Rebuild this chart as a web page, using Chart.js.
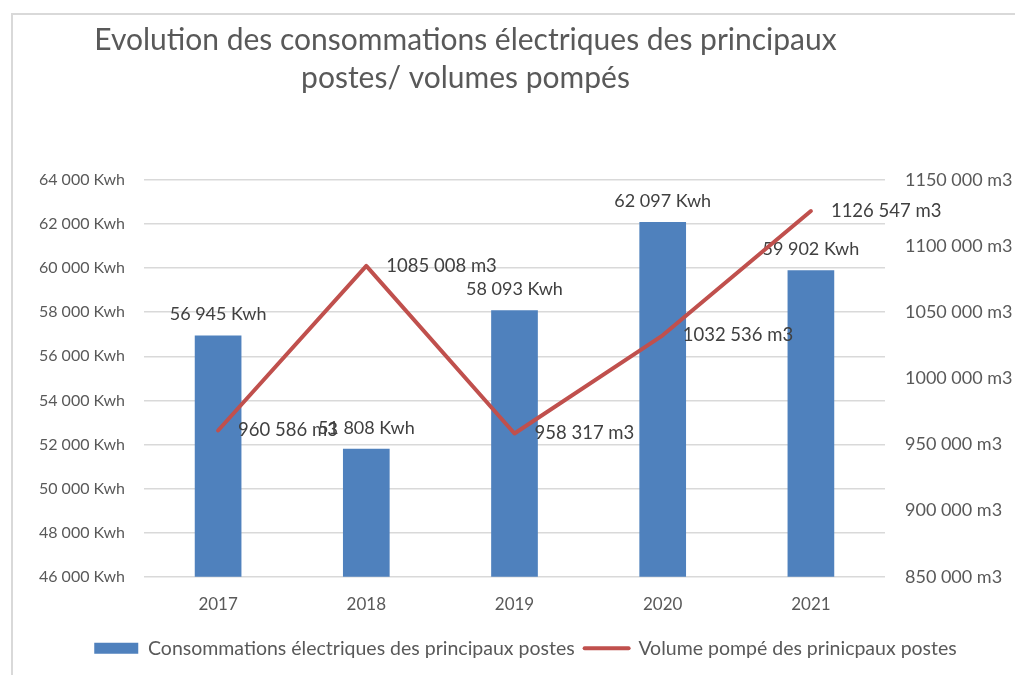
<!DOCTYPE html>
<html lang="fr">
<head>
<meta charset="utf-8">
<title>Evolution des consommations électriques</title>
<script src="https://cdn.jsdelivr.net/npm/chart.js@4/dist/chart.umd.min.js"></script>
<style>
  html, body { margin: 0; padding: 0; background: #ffffff; overflow: hidden; }
  #frame {
    position: absolute; left: 11px; top: 13px; width: 1020px; height: 680px;
    border-left: 2px solid #d9d9d9; border-top: 2px solid #d9d9d9;
  }
  #chart { position: absolute; left: 0; top: 0; }
</style>
</head>
<body>
<div id="frame"></div>
<canvas id="chart" width="1015" height="675"></canvas>
<script>
// Years on the category axis
const years = ['2017', '2018', '2019', '2020', '2021'];
// Electricity consumption of the main stations (Kwh)
const consoKwh = [56945, 51808, 58093, 62097, 59902];
// Volume pumped by the main stations (m3)
const volumeM3 = [960586, 1085008, 958317, 1032536, 1126547];
// Tick values of both value axes
const kwhTicks = [46000, 48000, 50000, 52000, 54000, 56000, 58000, 60000, 62000, 64000];
const m3Ticks = [850000, 900000, 950000, 1000000, 1050000, 1100000, 1150000];
// Series names and title
const seriesNames = ['Consommations électriques des principaux postes', 'Volume pompé des prinicpaux postes'];
const titleLines = ['Evolution des consommations électriques des principaux', 'postes/ volumes pompés'];

const FONT = 'Lato';
const BLUE = '#4f81bd';
const RED = '#c0504d';
const AXIS_TEXT = '#595959';
const LABEL_TEXT = '#404040';

// "64 000", "1150 000": a space before the last three digits only
function groupLast(v) {
  const thousands = Math.floor(v / 1000);
  const rest = String(Math.round(v) % 1000).padStart(3, '0');
  return thousands > 0 ? thousands + ' ' + rest : String(Math.round(v));
}
const kwhText = v => groupLast(v) + ' Kwh';
const m3Text = v => groupLast(v) + ' m3';

// Value labels: bar labels above each bar (under the line), line labels right of each point
const valueLabels = {
  id: 'valueLabels',
  beforeDatasetsDraw(chart) {
    const ctx = chart.ctx;
    const meta = chart.getDatasetMeta(0);
    ctx.save();
    ctx.font = '18px ' + FONT;
    ctx.fillStyle = LABEL_TEXT;
    ctx.textAlign = 'center';
    ctx.textBaseline = 'middle';
    meta.data.forEach((el, i) => {
      ctx.fillText(kwhText(chart.data.datasets[0].data[i]), el.x, el.y - 21);
    });
    ctx.restore();
  },
  afterDatasetsDraw(chart) {
    const ctx = chart.ctx;
    const meta = chart.getDatasetMeta(1);
    ctx.save();
    ctx.font = '18.5px ' + FONT;
    ctx.fillStyle = LABEL_TEXT;
    ctx.textAlign = 'left';
    ctx.textBaseline = 'middle';
    meta.data.forEach((el, i) => {
      ctx.fillText(m3Text(chart.data.datasets[1].data[i]), el.x + 20, el.y);
    });
    ctx.restore();
  }
};

// Title sits a little left of the canvas centre, legend a little right
const blockOffsets = {
  id: 'blockOffsets',
  afterLayout(chart) {
    const t = chart.titleBlock;
    t.left -= 42; t.right -= 42;
    const l = chart.legend;
    l.left += 18; l.right += 18;
  }
};

new Chart(document.getElementById('chart'), {
  data: {
    labels: years,
    datasets: [
      {
        type: 'bar',
        label: seriesNames[0],
        data: consoKwh,
        yAxisID: 'y',
        backgroundColor: BLUE,
        categoryPercentage: 1,
        barPercentage: 0.315,
        order: 1
      },
      {
        type: 'line',
        label: seriesNames[1],
        data: volumeM3,
        yAxisID: 'y1',
        borderColor: RED,
        backgroundColor: RED,
        borderWidth: 4,
        borderCapStyle: 'round',
        borderJoinStyle: 'round',
        pointRadius: 0,
        tension: 0,
        order: 0
      }
    ]
  },
  options: {
    responsive: false,
    devicePixelRatio: 1,
    animation: false,
    layout: { padding: { top: 0, left: 0, right: 0, bottom: 7 } },
    scales: {
      x: {
        grid: { display: false },
        border: { display: false },
        ticks: { color: AXIS_TEXT, font: { family: FONT, size: 17 }, padding: 10 },
        afterFit(scale) { scale.height = 51.8; }
      },
      y: {
        position: 'left',
        min: kwhTicks[0],
        max: kwhTicks[kwhTicks.length - 1],
        grid: { color: '#d9d9d9', lineWidth: 1.6, drawTicks: false },
        border: { display: false },
        ticks: {
          stepSize: kwhTicks[1] - kwhTicks[0],
          color: AXIS_TEXT,
          font: { family: FONT, size: 16 },
          padding: 19,
          callback: v => kwhText(v)
        },
        afterFit(scale) { scale.width = 144; }
      },
      y1: {
        position: 'right',
        min: m3Ticks[0],
        max: m3Ticks[m3Ticks.length - 1],
        grid: { display: false, drawTicks: false },
        border: { display: false },
        ticks: {
          stepSize: m3Ticks[1] - m3Ticks[0],
          color: AXIS_TEXT,
          font: { family: FONT, size: 18 },
          padding: 20,
          callback: v => m3Text(v)
        },
        afterFit(scale) { scale.width = 130; }
      }
    },
    plugins: {
      title: {
        display: true,
        text: titleLines,
        color: AXIS_TEXT,
        font: { family: FONT, size: 30, weight: 'normal', lineHeight: '38px' },
        padding: { top: 21, bottom: 83 }
      },
      legend: {
        position: 'bottom',
        labels: {
          usePointStyle: true,
          pointStyleWidth: 44,
          boxHeight: 11,
          padding: 10,
          color: AXIS_TEXT,
          font: { family: FONT, size: 19.5 },
          generateLabels() {
            return [
              { text: seriesNames[0], pointStyle: 'rect', fillStyle: BLUE, strokeStyle: BLUE, lineWidth: 0, datasetIndex: 0, fontColor: AXIS_TEXT },
              { text: seriesNames[1], pointStyle: 'line', fillStyle: RED, strokeStyle: RED, lineWidth: 4, lineCap: 'round', datasetIndex: 1, fontColor: AXIS_TEXT }
            ];
          }
        }
      },
      tooltip: { enabled: false }
    }
  },
  plugins: [valueLabels, blockOffsets]
});
</script>
</body>
</html>
